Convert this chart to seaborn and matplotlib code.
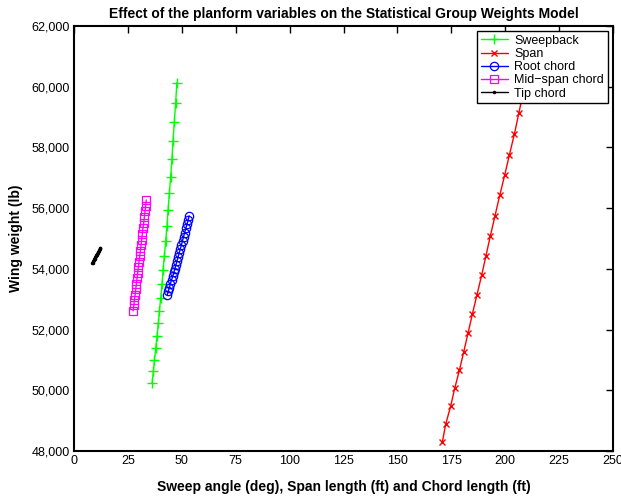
import matplotlib
matplotlib.use("Agg")
import matplotlib.pyplot as plt
import matplotlib.ticker as mticker
import seaborn as sns
import pandas as pd

# Planform variable values (deg or ft) and resulting wing weight (lb)
sweep_x = [36.2, 36.8, 37.3, 37.9, 38.5, 39.1, 39.6, 40.2, 40.8, 41.3, 41.9,
           42.5, 43.1, 43.6, 44.2, 44.8, 45.4, 45.9, 46.5, 47.1, 47.7]
sweep_w = [50250, 50626, 51008, 51394, 51789, 52208, 52623, 53051, 53493, 53964, 54435,
           54919, 55423, 55941, 56491, 57038, 57621, 58214, 58830, 59456, 60135]

span_x = [170.9, 172.4, 174.7, 176.6, 178.8, 180.8, 182.8, 184.8, 186.9, 189.1, 191.1,
          193.1, 195.3, 197.5, 199.8, 202.0, 204.3, 206.4, 208.5, 210.6, 212.7]
span_w = [48306, 48880, 49473, 50066, 50669, 51272, 51888, 52514, 53140, 53789, 54435,
          55074, 55753, 56425, 57094, 57763, 58445, 59147, 59860, 60580, 61310]

root_x = [43.2, 43.7, 44.2, 44.7, 45.2, 45.8, 46.3, 46.8, 47.3, 47.8, 48.3,
          48.8, 49.3, 49.8, 50.3, 50.8, 51.3, 51.8, 52.4, 52.9, 53.4]
root_w = [53140, 53260, 53385, 53510, 53635, 53760, 53885, 54010, 54140, 54270, 54400,
          54530, 54660, 54790, 54925, 55060, 55195, 55330, 55465, 55605, 55745]

mid_x = [27.4, 27.7, 28.0, 28.3, 28.6, 28.9, 29.2, 29.5, 29.8, 30.1, 30.45,
         30.75, 31.05, 31.35, 31.65, 31.95, 32.3, 32.6, 32.9, 33.2, 33.5]
mid_w = [52620, 52795, 52970, 53150, 53325, 53505, 53685, 53865, 54045, 54225, 54410,
         54590, 54775, 54960, 55145, 55330, 55515, 55705, 55890, 56080, 56270]

tip_x = [8.40, 8.59, 8.78, 8.97, 9.16, 9.35, 9.54, 9.73, 9.92, 10.11, 10.30,
         10.49, 10.68, 10.87, 11.06, 11.25, 11.44, 11.63, 11.82, 12.01, 12.20]
tip_w = [54180, 54206, 54232, 54258, 54284, 54310, 54336, 54362, 54388, 54414, 54440,
         54466, 54492, 54518, 54544, 54570, 54596, 54622, 54648, 54674, 54700]

x_ticks = [0, 25, 50, 75, 100, 125, 150, 175, 200, 225, 250]
y_ticks = [48000, 50000, 52000, 54000, 56000, 58000, 60000, 62000]

sns.set_style("white")
plt.rcParams["font.family"] = ["Liberation Sans", "DejaVu Sans"]
plt.rcParams["text.color"] = "black"
plt.rcParams["axes.labelcolor"] = "black"

fig = plt.figure(figsize=(6.21, 4.98), dpi=100)
ax = fig.add_axes([0.1193, 0.0944, 0.8677, 0.8534])

series = [
    ("Sweepback", sweep_x, sweep_w, "#00ff00", "+", dict(markersize=7, markeredgewidth=1.0)),
    ("Span", span_x, span_w, "#ff0000", "x", dict(markersize=5, markeredgewidth=1.0)),
    ("Root chord", root_x, root_w, "#0000ff", "o", dict(markersize=6, markerfacecolor="none", markeredgewidth=0.9)),
    ("Mid\u2212span chord", mid_x, mid_w, "#ff00ff", "s", dict(markersize=6, markerfacecolor="none", markeredgewidth=0.9)),
    ("Tip chord", tip_x, tip_w, "#000000", ".", dict(markersize=3.5)),
]

for name, xs, ws, col, mk, kw in series:
    df = pd.DataFrame({"x": xs, "w": ws})
    sns.lineplot(data=df, x="x", y="w", ax=ax, color=col, marker=mk,
                 markeredgecolor=col, linewidth=1.0, sort=False, label=name, **kw)

ax.set_xlim(0, 250)
ax.set_ylim(48000, 62000)
ax.set_xticks(x_ticks)
ax.set_yticks(y_ticks)
ax.yaxis.set_major_formatter(mticker.FuncFormatter(lambda v, p: f"{int(v):,}"))
ax.tick_params(direction="in", length=5, width=1.0, top=True, right=True,
               labelsize=9, colors="black", pad=3)
for sp in ax.spines.values():
    sp.set_visible(True)
    sp.set_color("black")
    sp.set_linewidth(1.5)

ax.set_xlabel("Sweep angle (deg), Span length (ft) and Chord length (ft)",
              fontsize=10, fontweight="bold", labelpad=9, color="black")
ax.set_ylabel("Wing weight (lb)", fontsize=10, fontweight="bold", labelpad=6, color="black")
ax.set_title("Effect of the planform variables on the Statistical Group Weights Model",
             fontsize=10, fontweight="bold", pad=6, color="black")

leg = ax.legend(loc="upper right", fontsize=9, frameon=True, fancybox=False,
                framealpha=1.0, edgecolor="black", borderpad=0.3, labelspacing=0.1,
                handlelength=2.2, handletextpad=0.5, borderaxespad=0.4)
leg.get_frame().set_linewidth(1.0)
for t in leg.get_texts():
    t.set_color("black")

fig.savefig("out.png", dpi=100)
